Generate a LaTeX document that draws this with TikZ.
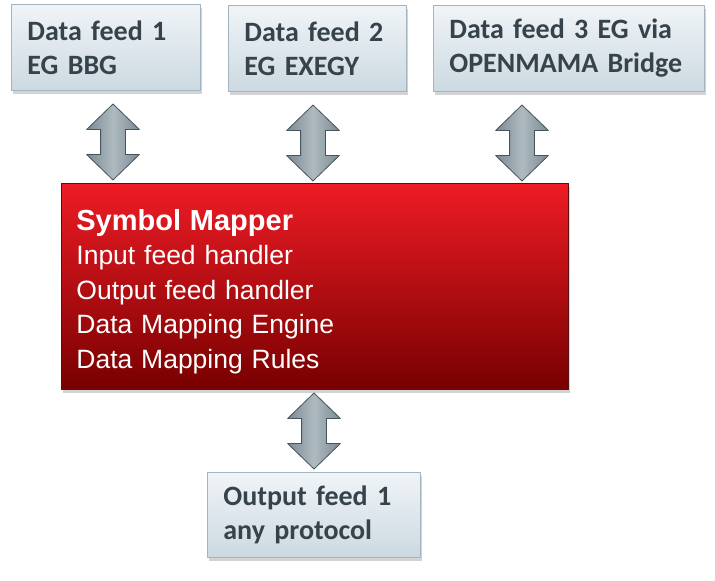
\documentclass[tikz,border=0pt]{standalone}
\usepackage{fontspec}
\setmainfont{Carlito}
\newfontfamily\arialfont{Liberation Sans}
\usetikzlibrary{shapes.arrows, shadows, positioning, calc}

\definecolor{feedtop}{HTML}{F0F4F7}
\definecolor{feedbot}{HTML}{CCD9E1}
\definecolor{feedline}{HTML}{A3B5C0}
\definecolor{feedtext}{HTML}{36434B}
\definecolor{maptop}{HTML}{EE1C25}
\definecolor{mapbot}{HTML}{780000}
\definecolor{mapline}{HTML}{5A1010}
\definecolor{linkfill}{HTML}{7C8A92}
\definecolor{linklight}{HTML}{AEBAC0}
\definecolor{linkline}{HTML}{46545C}

\begin{document}
\begin{tikzpicture}[x=1pt, y=-1pt, line join=round,
    feed/.style={draw=feedline, line width=0.8pt,
      top color=feedtop, bottom color=feedbot,
      drop shadow={shadow xshift=2pt, shadow yshift=-4pt, opacity=0.35},
      anchor=north west, inner xsep=16pt, inner ysep=0pt, align=left,
      text=feedtext, font=\bfseries\fontsize{28}{34}\selectfont},
    mapbox/.style={draw=mapline, line width=0.8pt,
      top color=maptop, bottom color=mapbot,
      drop shadow={shadow xshift=2pt, shadow yshift=-4pt, opacity=0.35},
      anchor=north west, inner xsep=15pt, inner ysep=0pt, align=left,
      text=white, font=\arialfont\fontsize{26.5}{34.5}\selectfont},
    link/.style={double arrow, shape border rotate=90, draw=linkline,
      line width=0.8pt, left color=linkfill, right color=linkfill,
      middle color=linklight, inner sep=12pt, minimum width=52pt,
      minimum height=76pt, double arrow head extend=14pt,
      double arrow tip angle=92}]

  \useasboundingbox (0,0) rectangle (715,581);

  % --- input feeds ---
  \node[feed, text width=157pt, minimum height=86pt] (feed1) at (11,4)
    {Data feed 1\\EG BBG};
  \node[feed, text width=146pt, minimum height=86pt] (feed2) at (228,5)
    {Data feed 2\\EG EXEGY};
  \node[feed, text width=239pt, minimum height=86pt] (feed3) at (433,5)
    {Data feed 3 EG via\\OPENMAMA Bridge};

  % --- mapper ---
  \node[mapbox, text width=477pt, minimum height=206pt] (mapper) at (61,183)
    {\rule{0pt}{31pt}{\bfseries\fontsize{29}{34.5}\selectfont Symbol Mapper}\\
     Input feed handler\\Output feed handler\\Data Mapping Engine\\
     Data Mapping Rules};

  % --- output feed ---
  \node[feed, text width=181pt, minimum height=85pt] (out1) at (207,472)
    {Output feed 1\\any protocol};

  % --- links ---
  \node[link] (link1) at (113,142) {};
  \node[link] (link2) at (313,143) {};
  \node[link] (link3) at (522,143) {};
  \node[link] (link4) at (314,431) {};

\end{tikzpicture}
\end{document}
